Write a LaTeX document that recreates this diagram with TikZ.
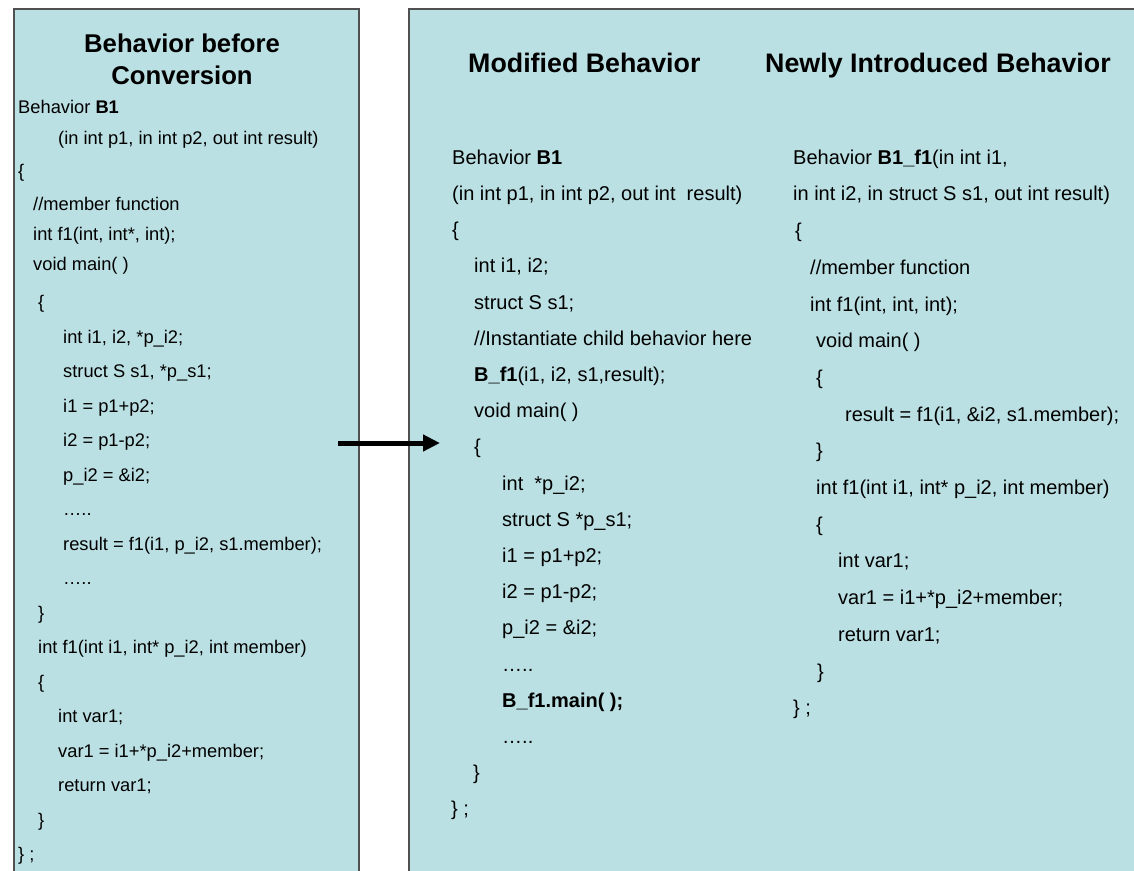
\documentclass[tikz,border=0pt]{standalone}
\usepackage{fontspec}
\setmainfont{Liberation Sans}
\usetikzlibrary{arrows.meta}
\definecolor{panelfill}{RGB}{187,224,227}
\definecolor{panelline}{RGB}{80,80,80}
\begin{document}
\begin{tikzpicture}[x=1bp,y=-1bp,
  panel/.style={fill=panelfill, draw=panelline, line width=1.6bp, inner sep=0pt, anchor=north west},
  titleL/.style={font=\fontsize{25.7bp}{30bp}\selectfont\bfseries, inner sep=0pt, anchor=base},
  titleR/.style={font=\fontsize{26.8bp}{30bp}\selectfont\bfseries, inner sep=0pt, anchor=base west},
  codeL/.style={font=\fontsize{18.3bp}{22bp}\selectfont, inner sep=0pt, anchor=base west},
  codeR/.style={font=\fontsize{20bp}{24bp}\selectfont, inner sep=0pt, anchor=base west},
  flow/.style={-{Triangle[length=17bp,width=16bp]}, line width=5bp}]
\useasboundingbox (0,0) rectangle (1134,871);
\clip (0,0) rectangle (1134,871);

% panels
\node[panel, minimum width=345bp, minimum height=900bp] (before) at (13,8) {};
\node[panel, minimum width=760bp, minimum height=900bp] (after) at (408,8) {};

% left panel: original behaviour
\node[titleL] (tb1) at (182,52.3) {Behavior before};
\node[titleL] (tb2) at (182,84.3) {Conversion};
\node[codeL] (a00) at (18,113.6) {Behavior \textbf{B1}};
\node[codeL] (a01) at (58,144.6) {(in int p1, in int p2, out int result)};
\node[codeL] (a02) at (18,177.6) {\{};
\node[codeL] (a03) at (33,210.6) {//member function};
\node[codeL] (a04) at (33,240.6) {int f1(int, int*, int);};
\node[codeL] (a05) at (33,270.6) {void main( )};
\node[codeL] (a06) at (38,308.6) {\{};
\node[codeL] (a07) at (63,343.1) {int i1, i2, *p\_i2;};
\node[codeL] (a08) at (63,377.6) {struct S s1, *p\_s1;};
\node[codeL] (a09) at (63,412.1) {i1 = p1+p2;};
\node[codeL] (a10) at (63,446.6) {i2 = p1-p2;};
\node[codeL] (a11) at (63,481.1) {p\_i2 = \&i2;};
\node[codeL] (a12) at (63,515.6) {…..};
\node[codeL] (a13) at (63,550.1) {result = f1(i1, p\_i2, s1.member);};
\node[codeL] (a14) at (63,584.6) {…..};
\node[codeL] (a15) at (38,619.1) {\}};
\node[codeL] (a16) at (38,653.6) {int f1(int i1, int* p\_i2, int member)};
\node[codeL] (a17) at (38,688.1) {\{};
\node[codeL] (a18) at (58,722.6) {int var1;};
\node[codeL] (a19) at (58,757.1) {var1 = i1+*p\_i2+member;};
\node[codeL] (a20) at (58,791.6) {return var1;};
\node[codeL] (a21) at (38,826.1) {\}};
\node[codeL] (a22) at (18,860.6) {\} ;};

% middle column: modified behaviour
\node[titleR] (tm) at (468,72.5) {Modified Behavior};
\node[codeR] (b00) at (452,164.2) {Behavior \textbf{B1}};
\node[codeR] (b01) at (452,200.4) {(in int p1, in int p2, out int\ \ result)};
\node[codeR] (b02) at (452,236.6) {\{};
\node[codeR] (b03) at (474,272.8) {int i1, i2;};
\node[codeR] (b04) at (474,309.0) {struct S s1;};
\node[codeR] (b05) at (474,345.2) {//Instantiate child behavior here};
\node[codeR] (b06) at (474,381.4) {\textbf{B\_f1}(i1, i2, s1,result);};
\node[codeR] (b07) at (474,417.6) {void main( )};
\node[codeR] (b08) at (474,453.8) {\{};
\node[codeR] (b09) at (502,490.0) {int\ \ *p\_i2;};
\node[codeR] (b10) at (502,526.2) {struct S *p\_s1;};
\node[codeR] (b11) at (502,562.4) {i1 = p1+p2;};
\node[codeR] (b12) at (502,598.6) {i2 = p1-p2;};
\node[codeR] (b13) at (502,634.8) {p\_i2 = \&i2;};
\node[codeR] (b14) at (502,671.0) {…..};
\node[codeR] (b15) at (502,707.2) {\textbf{B\_f1.main( );}};
\node[codeR] (b16) at (502,743.4) {…..};
\node[codeR] (b17) at (473,779.6) {\}};
\node[codeR] (b18) at (451,815.8) {\} ;};

% right column: newly introduced behaviour
\node[titleR] (tn) at (765,72.5) {Newly Introduced Behavior};
\node[codeR] (c00) at (793,164.2) {Behavior \textbf{B1\_f1}(in int i1,};
\node[codeR] (c01) at (793,200.9) {in int i2, in struct S s1, out int result)};
\node[codeR] (c02) at (795,237.6) {\{};
\node[codeR] (c03) at (810,274.3) {//member function};
\node[codeR] (c04) at (810,311.0) {int f1(int, int, int);};
\node[codeR] (c05) at (816,347.7) {void main( )};
\node[codeR] (c06) at (816,384.4) {\{};
\node[codeR] (c07) at (845,421.1) {result = f1(i1, \&i2, s1.member);};
\node[codeR] (c08) at (816,457.8) {\}};
\node[codeR] (c09) at (816,494.5) {int f1(int i1, int* p\_i2, int member)};
\node[codeR] (c10) at (816,531.2) {\{};
\node[codeR] (c11) at (838,567.9) {int var1;};
\node[codeR] (c12) at (838,604.6) {var1 = i1+*p\_i2+member;};
\node[codeR] (c13) at (838,641.3) {return var1;};
\node[codeR] (c14) at (817,678.0) {\}};
\node[codeR] (c15) at (793,714.7) {\} ;};

% conversion arrow
\coordinate (arrowfrom) at (338,443);
\coordinate (arrowto) at (440,443);
\draw[flow] (arrowfrom) -- (arrowto);
\end{tikzpicture}
\end{document}
